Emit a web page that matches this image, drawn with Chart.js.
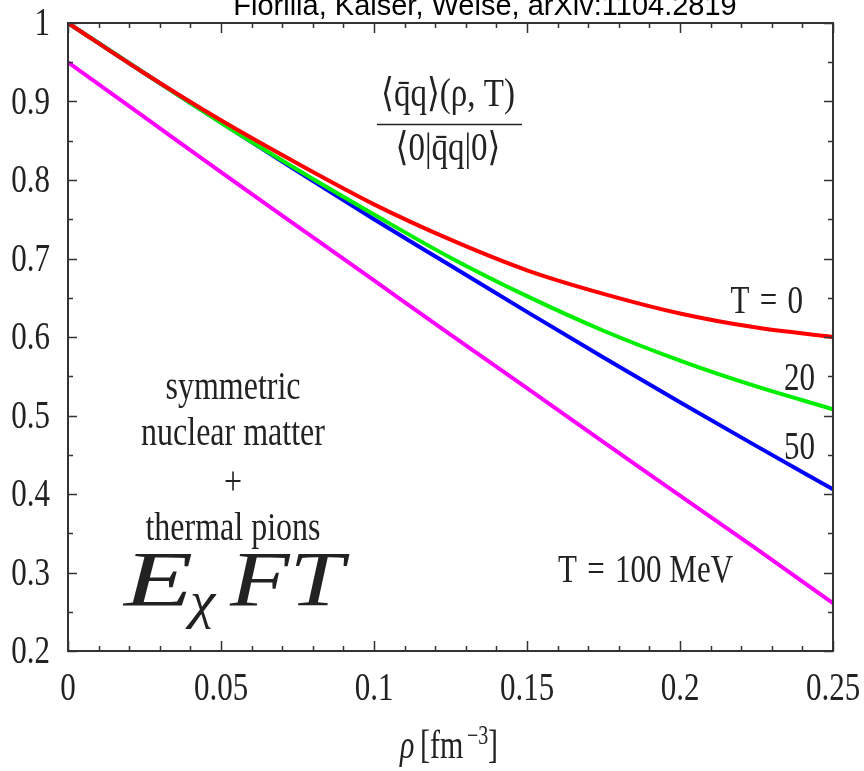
<!DOCTYPE html>
<html>
<head>
<meta charset="utf-8">
<script src="https://cdn.jsdelivr.net/npm/chart.js@4/dist/chart.umd.min.js"></script>
<style>
  body { margin: 0; background: #fff; }
  canvas { display: block; }
</style>
</head>
<body>
<canvas id="condensateChart" width="864" height="771"></canvas>
<script>
// Density grid (fm^-3) and condensate ratio for each temperature
const rho = [0, 0.025, 0.05, 0.075, 0.1, 0.125, 0.15, 0.175, 0.2, 0.225, 0.25];
const ratioT0 = [1.0, 0.936, 0.876, 0.821, 0.769, 0.724, 0.685, 0.655, 0.630, 0.612, 0.600];
const ratioT20 = [1.0, 0.936, 0.873, 0.813, 0.756, 0.701, 0.652, 0.608, 0.570, 0.537, 0.508];
const ratioT50 = [1.0, 0.936, 0.873, 0.811, 0.750, 0.691, 0.632, 0.574, 0.517, 0.461, 0.406];
const ratioT100 = [0.950, 0.880, 0.810, 0.741, 0.672, 0.603, 0.535, 0.466, 0.398, 0.330, 0.261];

// Axis ticks
const xMajor = [0, 0.05, 0.1, 0.15, 0.2, 0.25];
const xTickLabels = ['0', '0.05', '0.1', '0.15', '0.2', '0.25'];
const yMajor = [0.2, 0.3, 0.4, 0.5, 0.6, 0.7, 0.8, 0.9, 1];
const yTickLabels = ['0.2', '0.3', '0.4', '0.5', '0.6', '0.7', '0.8', '0.9', '1'];
const xMinorStep = 0.01;
const yMinorStep = 0.05;

const serif = '"Liberation Serif", "DejaVu Serif", serif';
const ink = '#222';

function pts(ys) {
  return rho.map((r, i) => ({ x: r, y: ys[i] }));
}

function series(ys, color) {
  return {
    data: pts(ys),
    borderColor: color,
    borderWidth: 4,
    pointRadius: 0,
    fill: false,
    cubicInterpolationMode: 'monotone'
  };
}

// draw text squeezed/stretched around its anchor point
function stretchText(ctx, str, x, y, size, sx, sy, align, style) {
  ctx.save();
  ctx.translate(x, y);
  ctx.scale(sx, sy);
  ctx.font = (style || '') + ' ' + size + 'px ' + serif;
  ctx.textAlign = align || 'left';
  ctx.textBaseline = 'alphabetic';
  ctx.fillStyle = ink;
  ctx.fillText(str, 0, 0);
  ctx.restore();
}

const framePlugin = {
  id: 'frame',
  afterDatasetsDraw(chart) {
    const ctx = chart.ctx;
    const xs = chart.scales.x, ys = chart.scales.y;
    const a = chart.chartArea;

    ctx.save();
    ctx.strokeStyle = '#333';
    ctx.lineWidth = 1.5;
    ctx.beginPath();
    // x ticks, bottom and top, pointing inward
    for (let v = 0; v <= 0.25 + 1e-9; v += xMinorStep) {
      const major = xMajor.some(m => Math.abs(m - v) < 1e-6);
      const len = major ? 10 : 5;
      const px = Math.round(xs.getPixelForValue(v)) + 0.5;
      ctx.moveTo(px, a.bottom); ctx.lineTo(px, a.bottom - len);
      ctx.moveTo(px, a.top); ctx.lineTo(px, a.top + len);
    }
    // y ticks, left and right
    for (let v = 0.2; v <= 1 + 1e-9; v += yMinorStep) {
      const major = yMajor.some(m => Math.abs(m - v) < 1e-6);
      const len = major ? 9 : 5;
      const py = Math.round(ys.getPixelForValue(v)) + 0.5;
      ctx.moveTo(a.left, py); ctx.lineTo(a.left + len, py);
      ctx.moveTo(a.right, py); ctx.lineTo(a.right - len, py);
    }
    ctx.stroke();

    ctx.lineWidth = 2;
    ctx.strokeRect(a.left, a.top, a.right - a.left, a.bottom - a.top);
    ctx.restore();

    // tick labels
    xMajor.forEach((v, i) => {
      stretchText(ctx, xTickLabels[i], xs.getPixelForValue(v), 700, 31, 1, 1.32, 'center');
    });
    yMajor.forEach((v, i) => {
      stretchText(ctx, yTickLabels[i], 50, ys.getPixelForValue(v) + 12, 31, 1, 1.32, 'right');
    });

    // axis title: rho [fm^-3]
    stretchText(ctx, 'ρ', 400, 758, 30, 1, 1.35, 'left', 'italic');
    stretchText(ctx, '[fm', 420, 758, 30, 1, 1.35, 'left');
    stretchText(ctx, '−3', 467, 744, 20, 1, 1.35, 'left');
    stretchText(ctx, ']', 488, 758, 30, 1, 1.35, 'left');

    // condensate ratio label
    stretchText(ctx, '⟨q\u0304q⟩(ρ, T)', 448, 106, 33, 1, 1.2, 'center');
    ctx.save();
    ctx.strokeStyle = ink;
    ctx.lineWidth = 1.5;
    ctx.beginPath();
    ctx.moveTo(377, 124.5); ctx.lineTo(522, 124.5);
    ctx.stroke();
    ctx.restore();
    stretchText(ctx, '⟨0|q\u0304q|0⟩', 448, 160, 33, 1, 1.2, 'center');

    // temperature labels
    stretchText(ctx, 'T\u2004=\u20040', 803, 313, 31, 1, 1.3, 'right');
    stretchText(ctx, '20', 815, 390, 31, 1, 1.3, 'right');
    stretchText(ctx, '50', 815, 459, 31, 1, 1.3, 'right');
    stretchText(ctx, 'T\u2004=\u2004100 MeV', 558, 582, 31, 1, 1.3, 'left');

    // medium description
    stretchText(ctx, 'symmetric', 233, 399, 32, 1, 1.25, 'center');
    stretchText(ctx, 'nuclear matter', 233, 445, 32, 1, 1.25, 'center');
    stretchText(ctx, '+', 233, 494, 32, 1, 1.25, 'center');
    stretchText(ctx, 'thermal pions', 233, 540, 32, 1, 1.25, 'center');

    // E_chi FT
    stretchText(ctx, 'E', 124, 605, 78, 1.45, 1, 'left', 'italic');
    stretchText(ctx, 'χ', 190, 618, 52, 1.1, 1, 'left', 'italic');
    stretchText(ctx, 'FT', 230, 605, 78, 1.25, 1, 'left', 'italic');

    // reference line at the top
    ctx.save();
    ctx.font = '29px "Liberation Sans", Arial, sans-serif';
    ctx.fillStyle = '#000';
    ctx.textAlign = 'center';
    ctx.textBaseline = 'alphabetic';
    ctx.fillText('Fiorilla, Kaiser, Weise, arXiv:1104.2819', 485, 15);
    ctx.restore();
  }
};

const ctx = document.getElementById('condensateChart').getContext('2d');
const condensateChart = new Chart(ctx, {
  type: 'line',
  data: {
    datasets: [
      series(ratioT0, '#ff0000'),
      series(ratioT20, '#00ee00'),
      series(ratioT50, '#0000ff'),
      series(ratioT100, '#ff00ff')
    ]
  },
  options: {
    responsive: false,
    animation: false,
    layout: { padding: { left: 60, top: 23, right: 31, bottom: 112 } },
    plugins: { legend: { display: false }, tooltip: { enabled: false } },
    scales: {
      x: {
        type: 'linear', min: 0, max: 0.25,
        grid: { display: false }, border: { display: false },
        ticks: { display: false }
      },
      y: {
        type: 'linear', min: 0.2, max: 1,
        grid: { display: false }, border: { display: false },
        ticks: { display: false }
      }
    }
  },
  plugins: [framePlugin]
});
</script>
</body>
</html>
